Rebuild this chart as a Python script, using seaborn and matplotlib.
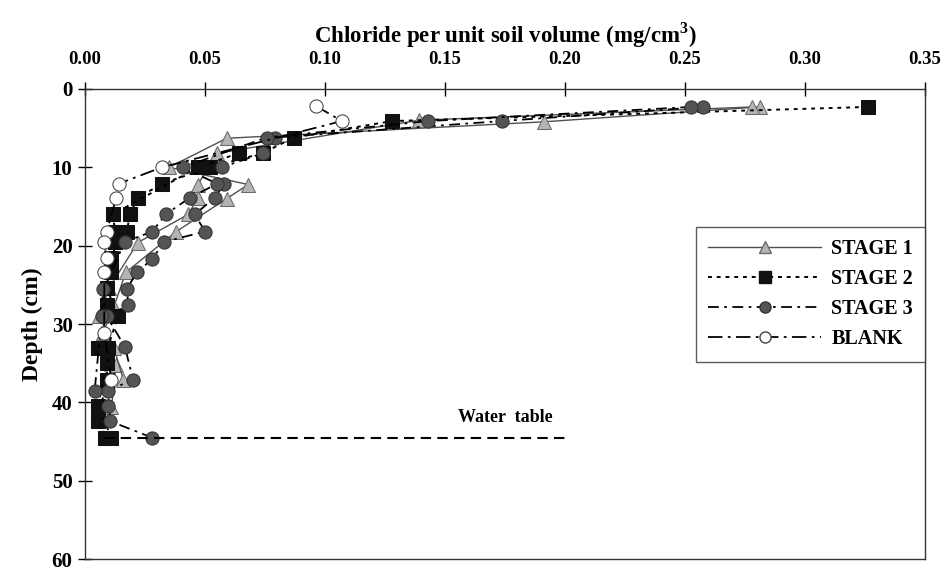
import numpy as np
import pandas as pd
import matplotlib
matplotlib.use("Agg")
import matplotlib.pyplot as plt
from matplotlib.lines import Line2D
import seaborn as sns

# stage 1 profiles (depth cm, chloride mg/cm3)
s1a_depth = [2.3, 4.2, 6.3, 10.0, 12.2, 14.0, 18.2, 23.4, 27.8, 31.1, 35.2, 40.6]
s1a_conc = [0.281, 0.191, 0.059, 0.035, 0.068, 0.059, 0.038, 0.017, 0.012, 0.0075, 0.013, 0.011]
s1b_depth = [2.3, 4.0, 8.2, 12.2, 13.9, 16.0, 19.6, 25.4, 29.0, 33.0, 37.1]
s1b_conc = [0.278, 0.139, 0.055, 0.047, 0.047, 0.043, 0.022, 0.010, 0.006, 0.012, 0.016]

# stage 2 profiles
s2a_depth = [2.3, 4.1, 6.2, 8.2, 10.0, 12.1, 13.9, 16.0, 18.2, 21.6, 25.4, 29.0, 33.0, 37.1, 42.4, 44.5]
s2a_conc = [0.326, 0.128, 0.087, 0.074, 0.052, 0.032, 0.022, 0.0187, 0.0174, 0.011, 0.009, 0.0137, 0.0095, 0.009, 0.0054, 0.0085]
s2b_depth = [8.2, 10.0, 16.0, 18.2, 19.5, 23.3, 27.6, 33.0, 35.0, 40.5, 44.5]
s2b_conc = [0.064, 0.047, 0.0116, 0.0125, 0.0125, 0.011, 0.009, 0.0054, 0.009, 0.0054, 0.011]

# stage 3 profiles
s3a_depth = [2.3, 4.1, 6.2, 8.2, 10.0, 12.1, 13.9, 16.0, 18.2, 19.5, 21.7, 23.4, 25.5, 27.6, 29.0, 32.9, 37.1, 38.5, 42.4, 44.5]
s3a_conc = [0.2575, 0.1735, 0.079, 0.074, 0.057, 0.058, 0.054, 0.0457, 0.050, 0.033, 0.028, 0.0216, 0.0174, 0.018, 0.009, 0.0166, 0.020, 0.0095, 0.0105, 0.028]
s3b_depth = [2.3, 4.1, 6.2, 10.0, 12.1, 13.9, 16.0, 18.2, 19.5, 25.5, 29.0, 38.5, 40.5]
s3b_conc = [0.2525, 0.143, 0.0756, 0.0407, 0.055, 0.0436, 0.0336, 0.028, 0.0166, 0.0075, 0.007, 0.004, 0.0095]

# blank profile
blank_depth = [2.2, 4.1, 10.0, 12.1, 13.9, 18.2, 19.5, 21.6, 23.3, 31.1, 37.1]
blank_conc = [0.0963, 0.107, 0.032, 0.014, 0.013, 0.009, 0.008, 0.009, 0.008, 0.008, 0.011]

water_table_depth = 44.5
water_table_x = [0.008, 0.20]

plt.rcParams['font.family'] = ['Liberation Serif', 'DejaVu Serif']
plt.rcParams['font.weight'] = 'bold'
plt.rcParams['mathtext.fontset'] = 'custom'
plt.rcParams['mathtext.bf'] = 'Liberation Serif:bold'
plt.rcParams['mathtext.rm'] = 'Liberation Serif'

fig = plt.figure(figsize=(9.45, 5.7), dpi=100)
ax = fig.add_axes([0.090, 0.019, 0.889, 0.825])

styles = {
    'STAGE 1': dict(color='#505050', linestyle='-', lw=1.0, marker='^', markersize=10,
                    markerfacecolor='#b4b4b4', markeredgecolor='#6a6a6a'),
    'STAGE 2': dict(color='black', linestyle=(0, (2, 2.5)), lw=1.4, marker='s', markersize=10,
                    markerfacecolor='#111111', markeredgecolor='#111111'),
    'STAGE 3': dict(color='black', linestyle=(0, (6, 3, 1.5, 3)), lw=1.3, marker='o', markersize=9.5,
                    markerfacecolor='#545454', markeredgecolor='#333333'),
    'BLANK': dict(color='black', linestyle=(0, (8, 3, 1.5, 3)), lw=1.3, marker='o', markersize=9.5,
                  markerfacecolor='white', markeredgecolor='#444444'),
}

profiles = [
    ('STAGE 1', s1a_depth, s1a_conc), ('STAGE 1', s1b_depth, s1b_conc),
    ('STAGE 2', s2a_depth, s2a_conc), ('STAGE 2', s2b_depth, s2b_conc),
    ('STAGE 3', s3a_depth, s3a_conc), ('STAGE 3', s3b_depth, s3b_conc),
    ('BLANK', blank_depth, blank_conc),
]

for name, depth, conc in profiles:
    df = pd.DataFrame({'conc': conc, 'depth': depth})
    sns.lineplot(data=df, x='conc', y='depth', sort=False, estimator=None, ax=ax, **styles[name])

# water table
ax.plot(water_table_x, [water_table_depth] * 2, color='black', lw=1.5, linestyle=(0, (5, 3)))
ax.text(0.175, water_table_depth - 1.5, 'Water  table', ha='center', va='bottom',
        fontsize=13, fontweight='bold')

ax.set_xlim(0, 0.35)
ax.set_ylim(60, 0)
ax.set_xticks(np.arange(0, 0.351, 0.05))
ax.set_xticklabels(['%.2f' % v for v in np.arange(0, 0.351, 0.05)])
ax.set_yticks(range(0, 61, 10))
ax.xaxis.tick_top()
ax.xaxis.set_label_position('top')
ax.tick_params(axis='both', direction='inout', length=10, width=1, labelsize=15, pad=4)
ax.tick_params(axis='x', labelsize=13.5, pad=10)
ax.set_xlabel('Chloride per unit soil volume (mg/cm$^\\mathbf{3}$)', fontsize=16.5, fontweight='bold', labelpad=6)
ax.set_ylabel('Depth (cm)', fontsize=17, fontweight='bold', labelpad=6)
for sp in ax.spines.values():
    sp.set_color('#333333')
    sp.set_linewidth(1.0)

handles = [Line2D([], [], **styles[k]) for k in ['STAGE 1', 'STAGE 2', 'STAGE 3', 'BLANK']]
leg = ax.legend(handles, ['STAGE 1', 'STAGE 2', 'STAGE 3', 'BLANK'], loc='upper right',
                bbox_to_anchor=(1.0, 0.706), borderaxespad=0, frameon=True, fancybox=False,
                handlelength=5.6, handletextpad=0.5, labelspacing=0.5, borderpad=0.6,
                prop={'size': 14.5, 'weight': 'bold'})
leg.get_frame().set_edgecolor('#333333')
leg.get_frame().set_linewidth(1.0)
for h in leg.legend_handles:
    h.set_markersize(8)

fig.savefig('out.png', dpi=100)
